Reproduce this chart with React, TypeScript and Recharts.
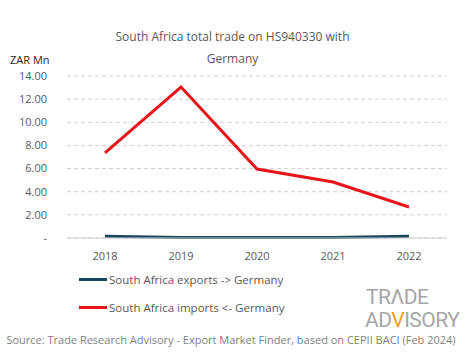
import { LineChart, Line, XAxis, YAxis, CartesianGrid } from 'recharts';

const years = ['2018', '2019', '2020', '2021', '2022'];
const exportsToGermany = [0.15, 0.05, 0.05, 0.05, 0.15];
const importsFromGermany = [7.35, 13.05, 5.96, 4.84, 2.68];
const yTicks = [0, 2, 4, 6, 8, 10, 12, 14];

const seriesInfo = [
  { key: 'exports', name: 'South Africa exports -> Germany', color: '#17475e' },
  { key: 'imports', name: 'South Africa imports <- Germany', color: '#e8141c' }
];

const chartData = years.map((year, i) => ({
  year,
  exports: exportsToGermany[i],
  imports: importsFromGermany[i]
}));

const FONT = '"Open Sans", sans-serif';

export default function App() {
  return (
    <div style={{ position: 'absolute', left: 0, top: 0, width: 465, height: 359, background: '#fff', fontFamily: FONT }}>
      <div style={{ position: 'absolute', top: 26, left: 0, width: 465, textAlign: 'center', fontSize: 12, color: '#595959', lineHeight: '22px' }}>
        South Africa total trade on HS940330 with<br />Germany
      </div>
      <div style={{ position: 'absolute', top: 52, left: 10, fontSize: 11, color: '#262626' }}>ZAR Mn</div>
      <LineChart width={465} height={359} data={chartData} margin={{ top: 76, right: 18, bottom: 91, left: 0 }}>
        <CartesianGrid vertical={false} stroke="#d0d0d0" strokeDasharray="4 3" />
        <XAxis
          dataKey="year"
          height={30}
          padding={{ left: 38, right: 38 }}
          axisLine={{ stroke: '#d0d0d0' }}
          tickLine={false}
          tick={{ fontSize: 11, fill: '#595959', fontFamily: FONT }}
          tickMargin={8}
        />
        <YAxis
          width={67}
          domain={[0, 14]}
          ticks={yTicks}
          axisLine={false}
          tickLine={false}
          tickFormatter={(v: number) => (v === 0 ? '-' : v.toFixed(2))}
          tick={{ fontSize: 11, fill: '#595959', fontFamily: FONT }}
          tickMargin={14}
        />
        {seriesInfo.map(s => (
          <Line
            key={s.key}
            type="linear"
            dataKey={s.key}
            name={s.name}
            stroke={s.color}
            strokeWidth={3}
            dot={false}
            isAnimationActive={false}
          />
        ))}
      </LineChart>
      <div style={{ position: 'absolute', top: 265, left: 79 }}>
        {seriesInfo.map(s => (
          <div key={s.key} style={{ display: 'flex', alignItems: 'center', height: 28, fontSize: 11.5, color: '#595959' }}>
            <span style={{ display: 'inline-block', width: 28, height: 3, background: s.color, marginRight: 2 }} />
            {s.name}
          </div>
        ))}
      </div>
      <div style={{ position: 'absolute', top: 286, left: 365, fontSize: 21, lineHeight: '23px', color: '#a6a6a6', fontFamily: '"Liberation Sans Narrow", "Roboto", sans-serif', letterSpacing: -0.5, whiteSpace: 'nowrap' }}>
        <div style={{ paddingLeft: 1 }}>TRΛDE</div>
        <div>AD<span style={{ color: '#f0a020' }}>V</span>ISORY</div>
      </div>
      <div style={{ position: 'absolute', top: 332, left: -4, width: 470, textAlign: 'center', fontSize: 11, color: '#7f7f7f', whiteSpace: 'nowrap' }}>
        Source: Trade Research Advisory - Export Market Finder, based on CEPII BACI (Feb 2024)
      </div>
    </div>
  );
}
